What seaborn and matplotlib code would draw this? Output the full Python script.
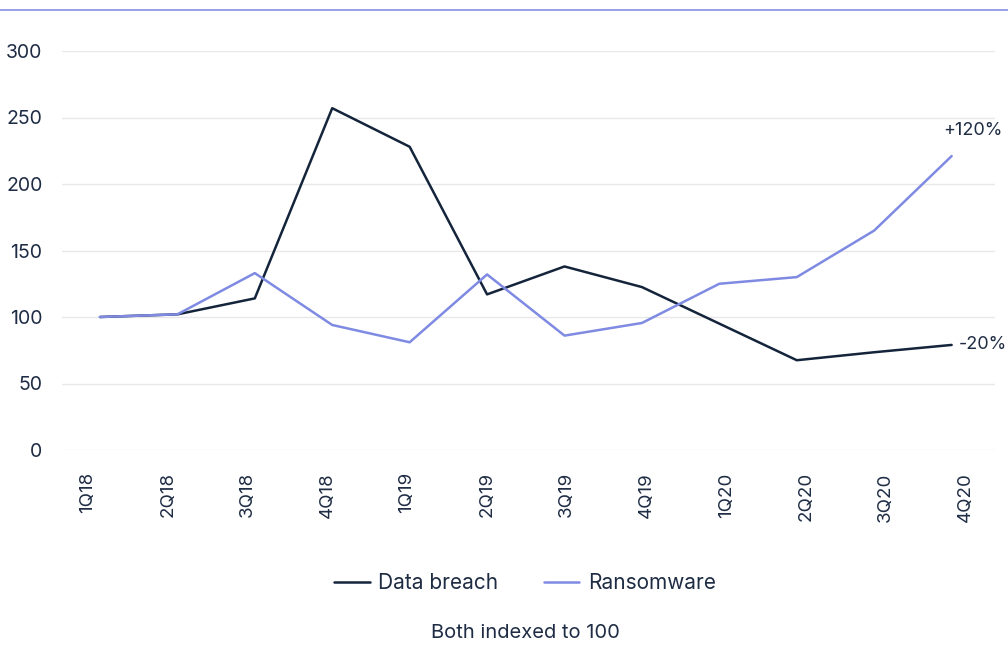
import matplotlib
matplotlib.use('Agg')
import matplotlib.pyplot as plt
import matplotlib.lines as mlines
import numpy as np
import pandas as pd
import seaborn as sns

# quarters and index values (both indexed to 100)
quarters = ['1Q18', '2Q18', '3Q18', '4Q18', '1Q19', '2Q19',
            '3Q19', '4Q19', '1Q20', '2Q20', '3Q20', '4Q20']
data_breach = [100, 102, 114, 257, 228, 117, 138, 122.5, 95, 67.5, 73.5, 79]
ransomware = [100, 102, 133, 94, 81, 132, 86, 95.5, 125, 130, 165, 221]
series_names = ['Data breach', 'Ransomware']
end_labels = ['-20%', '+120%']
yticks = [0, 50, 100, 150, 200, 250, 300]

TEXT = '#1e2c44'
COLORS = ['#14243b', '#7f8ae2']

sns.set_style('white')
plt.rcParams['font.family'] = ['Inter', 'DejaVu Sans']

df = pd.DataFrame({
    'x': list(range(len(quarters))) * 2,
    'value': data_breach + ransomware,
    'series': [series_names[0]] * len(quarters) + [series_names[1]] * len(quarters),
})

fig = plt.figure(figsize=(10.08, 6.45), dpi=100)
ax = fig.add_axes([62 / 1008, 1 - 450 / 645, (995 - 62) / 1008, (450 - 51) / 645])

sns.lineplot(data=df, x='x', y='value', hue='series', palette=COLORS,
             linewidth=1.8, ax=ax, legend=False)

ax.set_xlim(-0.49, 11.56)
ax.set_ylim(0, 300)
ax.set_yticks(yticks)
# category labels are spread a little wider than the line points
tick_pos = np.arange(len(quarters)) * (79.8 / 77.45) - 12 / 77.45
ax.set_xticks(tick_pos)
ax.set_xticklabels(quarters, rotation=90, fontsize=13.5, color=TEXT)
ax.tick_params(axis='y', labelsize=14, labelcolor=TEXT, length=0, pad=14)
ax.tick_params(axis='x', length=0, pad=16)
ax.yaxis.grid(True, color='#e8e8ea', linewidth=1)
ax.xaxis.grid(False)
for s in ax.spines.values():
    s.set_visible(False)
ax.set_xlabel('')
ax.set_ylabel('')

# end labels
last = len(quarters) - 1
ax.annotate(end_labels[0], (last, data_breach[-1]), xytext=(5, 0),
            textcoords='offset points', ha='left', va='center', fontsize=13, color=TEXT,
            annotation_clip=False)
ax.annotate(end_labels[1], (last, ransomware[-1]), xytext=(15, 12),
            textcoords='offset points', ha='center', va='bottom', fontsize=13, color=TEXT,
            annotation_clip=False)

# top rule
fig.add_artist(mlines.Line2D([0, 1], [1 - 10 / 645, 1 - 10 / 645], color='#8891e4', linewidth=1.2))

handles = [mlines.Line2D([], [], color=c, linewidth=1.8) for c in COLORS]
fig.legend(handles, series_names, loc='center', bbox_to_anchor=(525 / 1008, 1 - 583 / 645),
           ncol=2, frameon=False, fontsize=15, labelcolor=TEXT, handlelength=1.7,
           columnspacing=2.2, handletextpad=0.4)

fig.text(525 / 1008, 1 - 633 / 645, 'Both indexed to 100', ha='center', va='center',
         fontsize=14.5, color=TEXT)

fig.savefig('out.png', dpi=100)
